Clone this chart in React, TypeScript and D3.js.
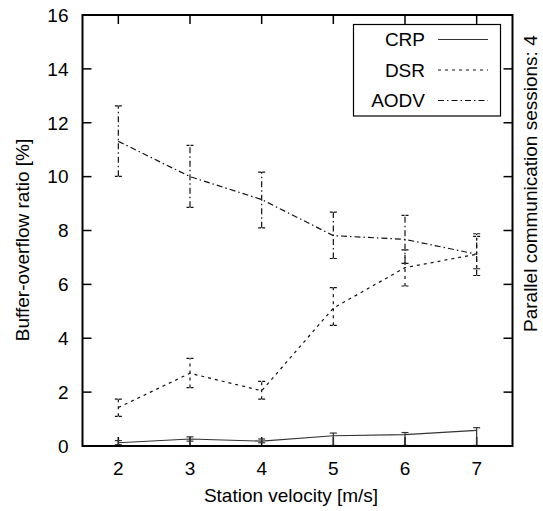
import React from "react";
import * as d3 from "d3";

const velocities = [2, 3, 4, 5, 6, 7];
const crpValues = [0.12, 0.26, 0.18, 0.38, 0.42, 0.58];
const crpLow = [0.05, 0.18, 0.12, 0.02, 0.02, 0.02];
const crpHigh = [0.2, 0.34, 0.26, 0.48, 0.5, 0.68];
const dsrValues = [1.43, 2.7, 2.05, 5.12, 6.62, 7.12];
const dsrLow = [1.1, 2.17, 1.74, 4.48, 5.94, 6.58];
const dsrHigh = [1.74, 3.25, 2.4, 5.88, 7.28, 7.78];
const aodvValues = [11.31, 10.0, 9.15, 7.81, 7.67, 7.12];
const aodvLow = [10.01, 8.86, 8.1, 6.96, 6.78, 6.33];
const aodvHigh = [12.63, 11.16, 10.17, 8.68, 8.56, 7.88];
const xTicks = [2, 3, 4, 5, 6, 7];
const yTicks = [0, 2, 4, 6, 8, 10, 12, 14, 16];
const seriesNames = ["CRP", "DSR", "AODV"];

const W = 543;
const H = 511;
const L = 82.5;
const R = 512.5;
const T = 15;
const B = 446;
const FONT = "'Liberation Sans', Arial, sans-serif";
const FS = 19;

export default function App() {
  const x = d3.scaleLinear().domain([1.5, 7.5]).range([L, R]);
  const y = d3.scaleLinear().domain([0, 16]).range([B, T]);
  const line = d3
    .line<[number, number]>()
    .x((d) => x(d[0]))
    .y((d) => y(d[1]));

  const series = [
    { name: seriesNames[0], v: crpValues, lo: crpLow, hi: crpHigh, dash: "none", color: "#333" },
    { name: seriesNames[1], v: dsrValues, lo: dsrLow, hi: dsrHigh, dash: "3,4", color: "#111" },
    { name: seriesNames[2], v: aodvValues, lo: aodvLow, hi: aodvHigh, dash: "6,3,1.5,3", color: "#111" },
  ];

  const tickLen = 9;

  return (
    <svg
      width={W}
      height={H}
      style={{ position: "absolute", left: 0, top: 0, background: "#fff" }}
      fontFamily={FONT}
    >
      <rect x={0} y={0} width={W} height={H} fill="#fff" />
      {/* ticks */}
      {yTicks.map((t) => (
        <g key={"y" + t}>
          <line x1={L} x2={L + tickLen} y1={y(t)} y2={y(t)} stroke="#000" strokeWidth={1.5} />
          <line x1={R} x2={R - tickLen} y1={y(t)} y2={y(t)} stroke="#000" strokeWidth={1.5} />
          <text x={L - 14} y={y(t) + 6.8} textAnchor="end" fontSize={FS}>
            {t}
          </text>
        </g>
      ))}
      {xTicks.map((t) => (
        <g key={"x" + t}>
          <line x1={x(t)} x2={x(t)} y1={B} y2={B - tickLen} stroke="#000" strokeWidth={1.5} />
          <line x1={x(t)} x2={x(t)} y1={T} y2={T + tickLen} stroke="#000" strokeWidth={1.5} />
          <text x={x(t)} y={B + 29} textAnchor="middle" fontSize={FS}>
            {t}
          </text>
        </g>
      ))}
      {/* series */}
      {series.map((s) => (
        <g key={s.name}>
          <path
            d={line(velocities.map((v, i) => [v, s.v[i]] as [number, number])) || ""}
            fill="none"
            stroke={s.color}
            strokeWidth={1.2}
            strokeDasharray={s.dash}
          />
          {velocities.map((v, i) => (
            <g key={i}>
              <line
                x1={x(v)}
                x2={x(v)}
                y1={y(s.lo[i])}
                y2={y(s.hi[i])}
                stroke={s.color}
                strokeWidth={1.2}
                strokeDasharray={s.dash}
              />
              <line x1={x(v) - 3.5} x2={x(v) + 3.5} y1={y(s.lo[i])} y2={y(s.lo[i])} stroke={s.color} strokeWidth={1.2} strokeDasharray={s.dash === "none" ? "none" : "3,1"} />
              <line x1={x(v) - 3.5} x2={x(v) + 3.5} y1={y(s.hi[i])} y2={y(s.hi[i])} stroke={s.color} strokeWidth={1.2} strokeDasharray={s.dash === "none" ? "none" : "3,1"} />
            </g>
          ))}
        </g>
      ))}
      {/* legend */}
      <rect x={353.5} y={24.5} width={147} height={91.5} fill="#fff" stroke="#000" strokeWidth={1.2} />
      {series.map((s, i) => (
        <g key={"lg" + s.name}>
          <text x={425} y={46 + i * 30.5} textAnchor="end" fontSize={FS}>
            {s.name}
          </text>
          <line
            x1={438}
            x2={488}
            y1={39.5 + i * 30.5}
            y2={39.5 + i * 30.5}
            stroke={s.color}
            strokeWidth={1.2}
            strokeDasharray={s.dash}
          />
        </g>
      ))}
      {/* frame */}
      <rect x={L} y={T} width={R - L} height={B - T} fill="none" stroke="#000" strokeWidth={2} />
      {/* axis labels */}
      <text x={291} y={502} textAnchor="middle" fontSize={FS}>
        Station velocity [m/s]
      </text>
      <text transform={`translate(29,240) rotate(-90)`} textAnchor="middle" fontSize={FS}>
        Buffer-overflow ratio [%]
      </text>
      <text transform={`translate(537,332) rotate(-90)`} textAnchor="start" fontSize={FS}>
        Parallel communication sessions: 4
      </text>
    </svg>
  );
}
